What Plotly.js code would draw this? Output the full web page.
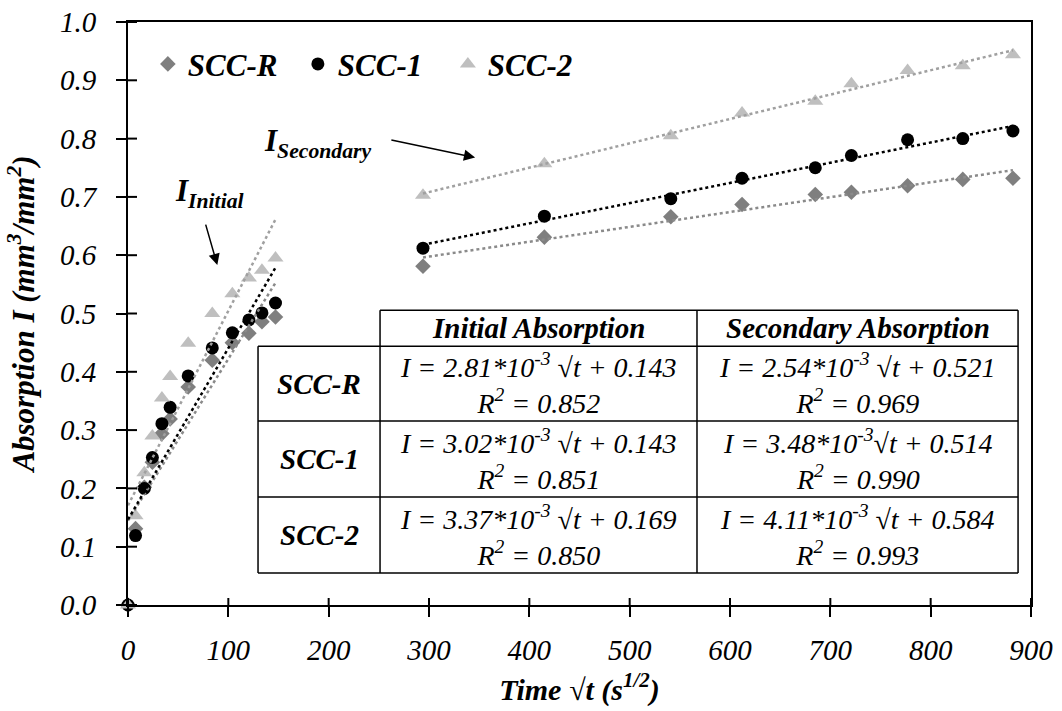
<!DOCTYPE html>
<html>
<head>
<meta charset="utf-8">
<script src="https://cdn.plot.ly/plotly-3.0.1.min.js"></script>
<style>html,body{margin:0;padding:0;background:#fff;}</style>
</head>
<body>
<div id="chart" style="width:1062px;height:711px"></div>
<script>
// ---- Data ----
const seriesNames = ['SCC-R', 'SCC-1', 'SCC-2'];
const initialTime = [0, 7.5, 16.3, 24.3, 33.8, 42, 60, 84, 104, 120.5, 133.5, 147];
const secondaryTime = [294, 415, 541, 612, 685, 721, 777, 832, 882];

const sccRInitial = [0, 0.131, 0.202, 0.245, 0.294, 0.319, 0.374, 0.420, 0.450, 0.466, 0.486, 0.494];
const scc1Initial = [0, 0.119, 0.200, 0.253, 0.311, 0.339, 0.393, 0.441, 0.467, 0.489, 0.501, 0.518];
const scc2Initial = [0, 0.153, 0.227, 0.290, 0.355, 0.392, 0.449, 0.500, 0.534, 0.561, 0.574, 0.595];

const sccRSecondary = [0.581, 0.631, 0.666, 0.687, 0.704, 0.708, 0.719, 0.730, 0.732];
const scc1Secondary = [0.612, 0.667, 0.697, 0.732, 0.750, 0.771, 0.798, 0.800, 0.813];
const scc2Secondary = [0.703, 0.757, 0.805, 0.844, 0.864, 0.894, 0.917, 0.925, 0.944];

const xTickVals = [0, 100, 200, 300, 400, 500, 600, 700, 800, 900];
const yTickVals = [0, 0.1, 0.2, 0.3, 0.4, 0.5, 0.6, 0.7, 0.8, 0.9, 1.0];

const tableHeader = ['Initial Absorption', 'Secondary Absorption'];
const tableRows = ['SCC-R', 'SCC-1', 'SCC-2'];
const initialEq = ['I = 2.81*10<sup>-3</sup> √t + 0.143', 'I = 3.02*10<sup>-3</sup> √t + 0.143', 'I = 3.37*10<sup>-3</sup> √t + 0.169'];
const initialR2 = ['0.852', '0.851', '0.850'];
const secondaryEq = ['I = 2.54*10<sup>-3</sup> √t + 0.521', 'I = 3.48*10<sup>-3</sup>√t + 0.514', 'I = 4.11*10<sup>-3</sup> √t + 0.584'];
const secondaryR2 = ['0.969', '0.990', '0.993'];

// ---- Styles ----
const markerStyles = [
  {symbol: 'diamond', color: '#7f7f7f', size: 12},
  {symbol: 'circle', color: '#000000', size: 13},
  {symbol: 'triangle-up', color: '#bfbfbf', size: 14}
];
const lineColors = ['#8a8a8a', '#000000', '#a0a0a0'];

function linFit(x, y) {
  const n = x.length;
  let mx = 0, my = 0;
  for (let i = 0; i < n; i++) { mx += x[i]; my += y[i]; }
  mx /= n; my /= n;
  let sxy = 0, sxx = 0;
  for (let i = 0; i < n; i++) { sxy += (x[i] - mx) * (y[i] - my); sxx += (x[i] - mx) * (x[i] - mx); }
  const b = sxy / sxx;
  return [b, my - b * mx];
}

const initialSets = [sccRInitial, scc1Initial, scc2Initial];
const secondarySets = [sccRSecondary, scc1Secondary, scc2Secondary];

const traces = [];
for (let s = 0; s < 3; s++) {
  traces.push({
    type: 'scatter', mode: 'markers', name: seriesNames[s],
    x: initialTime.concat(secondaryTime),
    y: initialSets[s].concat(secondarySets[s]),
    marker: {symbol: markerStyles[s].symbol, color: markerStyles[s].color, size: markerStyles[s].size, line: {width: 0}},
    cliponaxis: false
  });
}
for (let s = 0; s < 3; s++) {
  const groups = [[initialTime, initialSets[s]], [secondaryTime, secondarySets[s]]];
  groups.forEach(([tx, ty]) => {
    const [b, a] = linFit(tx, ty);
    const x0 = Math.min(...tx), x1 = Math.max(...tx);
    traces.push({
      type: 'scatter', mode: 'lines', showlegend: false, hoverinfo: 'skip',
      x: [x0, x1], y: [a + b * x0, a + b * x1],
      line: {color: lineColors[s], width: 2.5, dash: 'dot'}
    });
  });
}

// ---- Inner halves of the crossing tick marks (from the tick value arrays) ----
const shapes = [];
const tickStyle = {color: '#000', width: 2};
xTickVals.forEach(v => shapes.push({type: 'line', xref: 'x', yref: 'paper', ysizemode: 'pixel', yanchor: 0,
  x0: v, x1: v, y0: 0, y1: 7, line: tickStyle}));
yTickVals.forEach(v => shapes.push({type: 'line', yref: 'y', xref: 'paper', xsizemode: 'pixel', xanchor: 0,
  y0: v, y1: v, x0: 0, x1: 9, line: tickStyle}));

// ---- Table (in data coordinates) ----
const colX = [129.6, 251.2, 567.1, 887.1];
const rowY = [0.5057, 0.444, 0.3155, 0.1852, 0.0549];
const lineStyle = {color: '#000', width: 1.5};
shapes.push({type: 'rect', xref: 'x', yref: 'y', x0: colX[1], x1: colX[3], y0: rowY[1], y1: rowY[0], fillcolor: '#fff', line: {width: 0}, layer: 'below'});
shapes.push({type: 'rect', xref: 'x', yref: 'y', x0: colX[0], x1: colX[3], y0: rowY[4], y1: rowY[1], fillcolor: '#fff', line: {width: 0}, layer: 'below'});
shapes.push({type: 'line', xref: 'x', yref: 'y', x0: colX[1], x1: colX[3], y0: rowY[0], y1: rowY[0], line: lineStyle});
for (let r = 1; r < rowY.length; r++) {
  shapes.push({type: 'line', xref: 'x', yref: 'y', x0: colX[0], x1: colX[3], y0: rowY[r], y1: rowY[r], line: lineStyle});
}
shapes.push({type: 'line', xref: 'x', yref: 'y', x0: colX[0], x1: colX[0], y0: rowY[4], y1: rowY[1], line: lineStyle});
for (let c = 1; c < colX.length; c++) {
  shapes.push({type: 'line', xref: 'x', yref: 'y', x0: colX[c], x1: colX[c], y0: rowY[4], y1: rowY[0], line: lineStyle});
}

const annotations = [];
const cellFont = {family: 'Liberation Serif', size: 28, color: '#000', style: 'italic'};
const boldFont = {family: 'Liberation Serif', size: 29, color: '#000', style: 'italic', weight: 'bold'};
for (let c = 0; c < 2; c++) {
  annotations.push({xref: 'x', yref: 'y', x: (colX[c + 1] + colX[c + 2]) / 2, y: (rowY[0] + rowY[1]) / 2,
    text: tableHeader[c], showarrow: false, font: boldFont, xanchor: 'center', yanchor: 'middle'});
}
for (let r = 0; r < 3; r++) {
  const yc = (rowY[r + 1] + rowY[r + 2]) / 2;
  annotations.push({xref: 'x', yref: 'y', x: (colX[0] + colX[1]) / 2, y: yc, text: tableRows[r],
    showarrow: false, font: boldFont, xanchor: 'center', yanchor: 'middle'});
  annotations.push({xref: 'x', yref: 'y', x: (colX[1] + colX[2]) / 2, y: yc,
    text: initialEq[r] + '<br>R<sup>2</sup> = ' + initialR2[r],
    showarrow: false, font: cellFont, xanchor: 'center', yanchor: 'middle'});
  annotations.push({xref: 'x', yref: 'y', x: (colX[2] + colX[3]) / 2, y: yc,
    text: secondaryEq[r] + '<br>R<sup>2</sup> = ' + secondaryR2[r],
    showarrow: false, font: cellFont, xanchor: 'center', yanchor: 'middle'});
}
const labelFont = {family: 'Liberation Serif', size: 31, color: '#000', style: 'italic', weight: 'bold'};
annotations.push({xref: 'x', yref: 'y', x: 44.9, y: 0.706, text: 'I<sub>Initial</sub>', showarrow: false,
  font: labelFont, xanchor: 'left', yanchor: 'middle'});
annotations.push({xref: 'x', yref: 'y', x: 134, y: 0.792, text: 'I<sub>Secondary</sub>', showarrow: false,
  font: labelFont, xanchor: 'left', yanchor: 'middle'});
annotations.push({xref: 'x', yref: 'y', x: 89, y: 0.583, ax: 77, ay: 0.655, axref: 'x', ayref: 'y', text: '',
  showarrow: true, arrowhead: 2, arrowsize: 1.5, arrowwidth: 1.5, arrowcolor: '#000', standoff: 0});
annotations.push({xref: 'x', yref: 'y', x: 346, y: 0.7675, ax: 261, ay: 0.798, axref: 'x', ayref: 'y', text: '',
  showarrow: true, arrowhead: 2, arrowsize: 1.5, arrowwidth: 1.5, arrowcolor: '#000', standoff: 0});

const tickFont = {family: 'Liberation Serif', size: 29, color: '#000', style: 'italic'};
const layout = {
  width: 1062, height: 711,
  margin: {l: 128, r: 31, t: 22, b: 106, pad: 0},
  paper_bgcolor: '#fff', plot_bgcolor: '#fff',
  font: {family: 'Liberation Serif', color: '#000'},
  showlegend: true,
  legend: {orientation: 'h', x: 0.022, y: 0.9275, xanchor: 'left', yanchor: 'middle',
    font: {family: 'Liberation Serif', size: 31, color: '#000', style: 'italic', weight: 'bold'},
    bgcolor: 'rgba(0,0,0,0)', entrywidth: 105, entrywidthmode: 'pixels'},
  xaxis: {range: [0, 900], tickvals: xTickVals, ticks: 'outside', ticklen: 10, tickwidth: 2,
    tickcolor: '#000', showline: true, linecolor: '#000', linewidth: 2, mirror: true, showgrid: false, zeroline: false,
    tickfont: tickFont, ticklabelstandoff: 8,
    title: {text: 'Time √t (s<sup>1/2</sup>)', font: {family: 'Liberation Serif', size: 30, color: '#000', style: 'italic', weight: 'bold'}, standoff: 14}},
  yaxis: {range: [0, 1.0], tickvals: yTickVals, tickformat: '.1f', ticks: 'outside', ticklen: 10, tickwidth: 2,
    tickcolor: '#000', showline: true, linecolor: '#000', linewidth: 2, mirror: true, showgrid: false, zeroline: false,
    tickfont: tickFont, ticklabelstandoff: 14,
    title: {text: 'Absorption I (mm<sup>3</sup>/mm<sup>2</sup>)', font: {family: 'Liberation Serif', size: 31, color: '#000', style: 'italic', weight: 'bold'}, standoff: 16}},
  shapes: shapes,
  annotations: annotations
};

Plotly.newPlot('chart', traces, layout, {displayModeBar: false, staticPlot: true});
</script>
</body>
</html>
